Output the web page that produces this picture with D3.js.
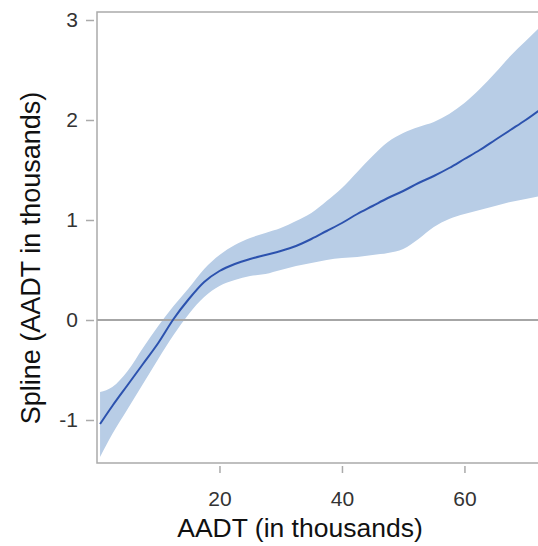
<!DOCTYPE html>
<html>
<head>
<meta charset="utf-8">
<script src="https://cdn.jsdelivr.net/npm/d3@7"></script>
<style>
  html, body { margin: 0; padding: 0; background: #fff; }
  svg { display: block; font-family: "Liberation Sans", Arial, sans-serif; }
</style>
</head>
<body>
<svg id="chart" width="538" height="546"></svg>
<script>
// AADT (in thousands)
const aadt = [0.5, 2.5, 5, 7.5, 10, 12.5, 15, 17.5, 20, 22.5, 25, 27.5, 30, 32.5, 35, 37.5,
              40, 42.5, 45, 47.5, 50, 52.5, 55, 57.5, 60, 62.5, 65, 67.5, 70, 72.5];
// fitted spline
const splineFit = [-1.04, -0.86, -0.65, -0.44, -0.23, 0.01, 0.21, 0.38, 0.49, 0.56, 0.61, 0.65, 0.69, 0.74, 0.81, 0.89,
                   0.97, 1.06, 1.14, 1.22, 1.29, 1.37, 1.44, 1.52, 1.61, 1.70, 1.80, 1.90, 2.00, 2.11];
// upper confidence limit
const upperCL = [-0.72, -0.67, -0.51, -0.28, -0.06, 0.14, 0.32, 0.51, 0.65, 0.75, 0.82, 0.87, 0.92, 0.99, 1.07, 1.19,
                 1.32, 1.48, 1.64, 1.78, 1.87, 1.93, 1.98, 2.06, 2.17, 2.31, 2.47, 2.64, 2.79, 2.94];
// lower confidence limit
const lowerCL = [-1.37, -1.14, -0.89, -0.64, -0.39, -0.15, 0.06, 0.23, 0.34, 0.40, 0.44, 0.46, 0.50, 0.54, 0.57, 0.60,
                 0.62, 0.63, 0.65, 0.67, 0.71, 0.81, 0.93, 1.01, 1.06, 1.10, 1.14, 1.18, 1.21, 1.24];
const xTicks = [20, 40, 60];
const yTicks = [-1, 0, 1, 2, 3];
const xTitle = "AADT (in thousands)";
const yTitle = "Spline (AADT in thousands)";

(function () {
const rows = aadt.map((x, i) => ({ x, fit: splineFit[i], lo: lowerCL[i], hi: upperCL[i] }));

const svg = d3.select("#chart");
const pLeft = 97, pRight = 541, pTop = 12, pBottom = 463;

const x = d3.scaleLinear().domain([0, 72.5]).range([pLeft, pRight]);
const y = d3.scaleLinear().domain([-1.43, 3.08]).range([pBottom, pTop]);

svg.append("defs").append("clipPath").attr("id", "clip")
  .append("rect").attr("x", pLeft).attr("y", pTop).attr("width", pRight - pLeft).attr("height", pBottom - pTop);

const plot = svg.append("g").attr("clip-path", "url(#clip)");

// confidence band
plot.append("path")
  .datum(rows)
  .attr("fill", "#b8cde6")
  .attr("d", d3.area().curve(d3.curveMonotoneX)
    .x(d => x(d.x)).y0(d => y(d.lo)).y1(d => y(d.hi)));

// zero reference line
plot.append("line")
  .attr("x1", pLeft).attr("x2", pRight)
  .attr("y1", y(0)).attr("y2", y(0))
  .attr("stroke", "#a6a6a6").attr("stroke-width", 2);

// fit line
plot.append("path")
  .datum(rows)
  .attr("fill", "none")
  .attr("stroke", "#2c52ae")
  .attr("stroke-width", 2)
  .attr("d", d3.line().curve(d3.curveMonotoneX).x(d => x(d.x)).y(d => y(d.fit)));

// frame (left, top, bottom)
svg.append("path")
  .attr("fill", "none").attr("stroke", "#aaaaaa").attr("stroke-width", 1.5)
  .attr("d", `M${pRight},${pTop}H${pLeft}V${pBottom}H${pRight}`);

const fmt = d => String(d);

// x axis
const xAxis = svg.append("g").attr("transform", `translate(0,${pBottom + 3})`)
  .call(d3.axisBottom(x).tickValues(xTicks).tickSize(7).tickPadding(18).tickFormat(fmt));
xAxis.select(".domain").remove();
xAxis.selectAll(".tick line").attr("stroke", "#aaaaaa").attr("stroke-width", 1.5);
xAxis.selectAll(".tick text").attr("fill", "#333").style("font-size", "21px")
  .style("font-family", "'Liberation Sans', Arial, sans-serif");

// y axis
const yAxis = svg.append("g").attr("transform", `translate(${pLeft - 3},0)`)
  .call(d3.axisLeft(y).tickValues(yTicks).tickSize(8).tickPadding(8).tickFormat(fmt));
yAxis.select(".domain").remove();
yAxis.selectAll(".tick line").attr("stroke", "#aaaaaa").attr("stroke-width", 1.5);
yAxis.selectAll(".tick text").attr("fill", "#333").style("font-size", "21px")
  .style("font-family", "'Liberation Sans', Arial, sans-serif");

// axis titles
svg.append("text")
  .attr("x", 300).attr("y", 537)
  .attr("text-anchor", "middle")
  .attr("fill", "#111").style("font-size", "26.5px")
  .text(xTitle);

svg.append("text")
  .attr("transform", "translate(40,258) rotate(-90)")
  .attr("text-anchor", "middle")
  .attr("fill", "#111").style("font-size", "27px")
  .text(yTitle);
})();
</script>
</body>
</html>
